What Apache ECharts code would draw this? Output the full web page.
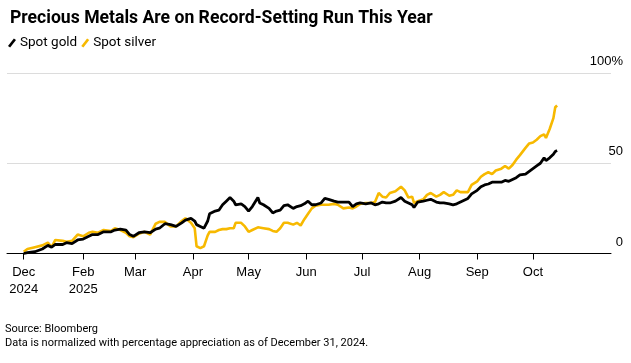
<!DOCTYPE html>
<html>
<head>
<meta charset="utf-8">
<script src="https://cdn.jsdelivr.net/npm/echarts@6/dist/echarts.min.js"></script>
<style>
html,body{margin:0;padding:0;background:#fff;}
#chart{width:631px;height:363px;}
</style>
</head>
<body>
<div id="chart"></div>
<script>
const dates = [
'2024-12-31','2025-01-02','2025-01-06','2025-01-10','2025-01-13','2025-01-15','2025-01-17','2025-01-21','2025-01-23','2025-01-26',
'2025-01-29','2025-02-01','2025-02-04','2025-02-06','2025-02-09','2025-02-12','2025-02-16','2025-02-18','2025-02-21','2025-02-24',
'2025-02-26','2025-02-28','2025-03-03','2025-03-06','2025-03-09','2025-03-12','2025-03-14','2025-03-17','2025-03-20','2025-03-23',
'2025-03-26','2025-03-28','2025-03-31','2025-04-02','2025-04-03','2025-04-05','2025-04-07','2025-04-09','2025-04-10','2025-04-13',
'2025-04-15','2025-04-17','2025-04-19','2025-04-21','2025-04-23','2025-04-24','2025-04-27','2025-04-29','2025-05-01','2025-05-03',
'2025-05-06','2025-05-07','2025-05-09','2025-05-12','2025-05-14','2025-05-16','2025-05-18','2025-05-20','2025-05-22','2025-05-25',
'2025-05-27','2025-05-29','2025-05-31','2025-06-02','2025-06-04','2025-06-06','2025-06-09','2025-06-11','2025-06-13','2025-06-16',
'2025-06-18','2025-06-21','2025-06-24','2025-06-26','2025-06-28','2025-06-30','2025-07-03','2025-07-06','2025-07-08','2025-07-10',
'2025-07-12','2025-07-14','2025-07-16','2025-07-19','2025-07-22','2025-07-24','2025-07-26','2025-07-28','2025-07-29','2025-07-31',
'2025-08-03','2025-08-05','2025-08-07','2025-08-10','2025-08-12','2025-08-14','2025-08-17','2025-08-19','2025-08-21','2025-08-23',
'2025-08-25','2025-08-27','2025-08-29','2025-09-01','2025-09-03','2025-09-05','2025-09-07','2025-09-09','2025-09-11','2025-09-14',
'2025-09-16','2025-09-18','2025-09-20','2025-09-22','2025-09-24','2025-09-27','2025-09-29','2025-10-01','2025-10-03','2025-10-05',
'2025-10-07','2025-10-08','2025-10-10','2025-10-12','2025-10-13','2025-10-14'
];
const gold = [
0,0.5,1,2.5,4.5,3.5,5,5,6,5.5,
7.5,8,9.5,10.5,10.5,12,12,13,13.5,13,
10.5,9.5,11.5,12,11.5,13.5,14,16.5,16,15,
17,18.5,19.5,18,16,15,14,18,22,23.5,
24,27,29,31,29,27,27.5,26,23.5,26,
31,28,27,25,22.5,23.5,24,26.5,27,25,
26,26.5,27.5,29,27,27,28,30.5,30,29,
28.5,28.5,28.5,26,27.5,28,27.5,28,27,27.5,
28.5,28,28,29,31,29,28,27,25.5,28.5,
29,29.5,30,28.5,28,28,27.5,27,27.5,28.5,
29.5,30.5,33,35,37,38,38.5,39.5,39.5,39.5,
40.5,40,41,42,43.5,44,45.5,47,48.5,50,
53,51.5,53,55,56.5,57
];
const silver = [
1,2.5,3.5,4.5,6,3.5,7.5,7,6.5,7,
10.5,9.5,11.5,12,11.5,13,12.5,14,13,11.5,
9.5,9,11,12,10.5,16.5,17.5,17.5,15,15,
18,19.5,17,14,4,3,4,10,12,12,
13,13.5,13.5,14,14,17,17,15,12,13,
14.5,13.5,14,13.5,12.5,12,14,17,17,16,
17,15.5,19,22,25,26.5,27,27,27,27.5,
27,25,25.5,25,26,27.5,28,28,28.5,33.5,
31.5,31,33.5,34.5,37,35,31,31.5,28,29,
30,32.5,33.5,31.5,32.5,34,32,32.5,35,34,
34,34,38,40,42.5,44,45,44,46,47,
48.5,47,49,52,54.5,58.5,61,61.5,63,65,
66,64,69,75,81,82
];
const tickDates = ['2024-12-31','2025-02-01','2025-03-01','2025-04-01','2025-05-01','2025-06-01','2025-07-01','2025-08-01','2025-09-01','2025-10-01'];
const tickLabels = ['Dec\n2024','Feb\n2025','Mar','Apr','May','Jun','Jul','Aug','Sep','Oct'];
const yTicks = [0, 50, 100];

const P = s => Date.parse(s + 'T00:00:00Z');
const tickVals = tickDates.map(P);
const labelMap = {};
tickVals.forEach((v, i) => { labelMap[v] = tickLabels[i]; });
const goldData = dates.map((d, i) => [P(d), gold[i]]);
const silverData = dates.map((d, i) => [P(d), silver[i]]);

const FONT = 'Liberation Sans';
const NARROW = 'Roboto';
const chart = echarts.init(document.getElementById('chart'), null, {renderer: 'canvas'});
chart.setOption({
  animation: false,
  backgroundColor: '#fff',
  textStyle: {fontFamily: FONT},
  title: {
    text: 'Precious Metals Are on Record-Setting Run This Year',
    left: 5, top: 5,
    textStyle: {fontFamily: NARROW, fontSize: 17.6, fontWeight: 'bold', color: '#000'}
  },
  legend: {
    left: 3, top: 31,
    data: ['Spot gold', 'Spot silver'],
    itemWidth: 8, itemHeight: 11, itemGap: 4,
    icon: 'path://M0,8.6 L6.6,0 L9,1.8 L2.4,10.4 Z',
    textStyle: {fontFamily: NARROW, fontSize: 13.5, color: '#000', padding: [0,0,0,-1]}
  },
  grid: {left: 7, right: 20, top: 73, bottom: 109.5},
  xAxis: {
    type: 'value',
    min: P('2024-12-22'), max: P('2025-11-12'),
    splitLine: {show: false},
    axisLine: {show: true, lineStyle: {color: '#000', width: 1}},
    axisTick: {show: true, customValues: tickVals, length: 6, lineStyle: {color: '#000'}},
    axisLabel: {
      customValues: tickVals,
      formatter: v => labelMap[v] || '',
      fontFamily: FONT, fontSize: 13, color: '#000', lineHeight: 17, margin: 10,
      showMinLabel: true, showMaxLabel: true
    }
  },
  yAxis: {
    type: 'value', position: 'right',
    min: 0, max: 100, interval: 50,
    axisLine: {show: false}, axisTick: {show: false},
    splitLine: {show: true, lineStyle: {color: '#dcdcdc', width: 1}},
    axisLabel: {
      align: 'right', verticalAlign: 'bottom', margin: 12,
      padding: [0,0,5,0],
      fontFamily: FONT, fontSize: 13, color: '#000',
      formatter: v => v === 100 ? '100%' : String(v)
    }
  },
  series: [
    {name: 'Spot silver', type: 'line', data: silverData, showSymbol: false, symbol: 'none',
     lineStyle: {color: '#f7b900', width: 2.6}, itemStyle: {color: '#f7b900'}, z: 2},
    {name: 'Spot gold', type: 'line', data: goldData, showSymbol: false, symbol: 'none',
     lineStyle: {color: '#000', width: 2.8}, itemStyle: {color: '#000'}, z: 3}
  ],
  graphic: [
    {type: 'text', left: 5, top: 324, style: {text: 'Source: Bloomberg', fontFamily: NARROW, fontSize: 11, fill: '#000'}},
    {type: 'text', left: 5, top: 338, style: {text: 'Data is normalized with percentage appreciation as of December 31, 2024.', fontFamily: NARROW, fontSize: 11, fill: '#000'}}
  ]
});
</script>
</body>
</html>
